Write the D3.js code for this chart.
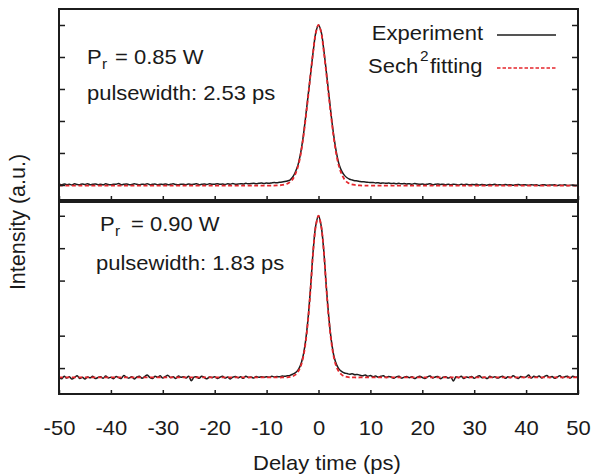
<!DOCTYPE html>
<html>
<head>
<meta charset="utf-8">
<script src="https://cdn.jsdelivr.net/npm/d3@7"></script>
<style>
  body { margin: 0; background: #fff; }
  svg text { font-family: "Liberation Sans", Arial, Helvetica, sans-serif; fill: #1a1a1a; }
</style>
</head>
<body>
<div id="chart"></div>
<script>
// delay axis ticks (ps)
var xTicks = [-50, -40, -30, -20, -10, 0, 10, 20, 30, 40, 50]
var topYTicks = [0, 0.2, 0.4, 0.6, 0.8, 1.0]
var botYTicks = [0.06, 0.26, 0.6, 0.8, 1.0]

// experiment sampled every 0.5 ps from -50 to 50
var delay = d3.range(-50, 50.01, 0.5)

var expTop = [
  0.004, 0.001, 0.006, 0.002, 0.005, 0.000, 0.007, 0.003, 0.002, 0.006,
  0.003, 0.008, 0.001, 0.004, 0.006, 0.002, 0.005, 0.001, 0.007, 0.003,
  0.002, 0.005, 0.004, 0.009, 0.001, 0.004, 0.006, 0.002, 0.003, 0.007,
  0.004, 0.001, 0.005, 0.003, 0.008, 0.002, 0.004, 0.006, 0.001, 0.005,
  0.003, 0.006, 0.002, 0.004, 0.007, 0.003, 0.001, 0.005, 0.004, 0.002,
  0.006, 0.003, 0.005, 0.008, 0.002, 0.004, 0.006, 0.003, 0.007, 0.004,
  0.005, 0.008, 0.004, 0.006, 0.003, 0.007, 0.005, 0.009, 0.004, 0.006,
  0.008, 0.006, 0.010, 0.007, 0.009, 0.011, 0.008, 0.010, 0.012, 0.009,
  0.012, 0.010, 0.013, 0.015, 0.014, 0.017, 0.018, 0.021, 0.025, 0.031,
  0.048, 0.078, 0.120, 0.190, 0.290, 0.420, 0.560, 0.700, 0.840, 0.955,
  1.000, 0.960, 0.850, 0.710, 0.565, 0.420, 0.295, 0.195, 0.125, 0.085,
  0.060, 0.045, 0.036, 0.031, 0.027, 0.025, 0.022, 0.020, 0.019, 0.017,
  0.015, 0.016, 0.013, 0.014, 0.011, 0.013, 0.010, 0.012, 0.009, 0.011,
  0.008, 0.010, 0.007, 0.009, 0.006, 0.008, 0.005, 0.009, 0.006, 0.004,
  0.006, 0.003, 0.005, 0.007, 0.002, 0.004, 0.006, 0.003, 0.005, 0.002,
  0.004, 0.001, 0.005, 0.003, 0.000, 0.004, 0.002, 0.005, 0.001, 0.003,
  0.002, 0.004, 0.000, 0.003, 0.001, -0.001, 0.003, 0.001, 0.004, 0.000,
  0.002, -0.001, 0.003, 0.000, 0.002, -0.002, 0.001, 0.003, -0.001, 0.002,
  0.000, -0.002, 0.002, -0.001, 0.001, -0.003, 0.000, 0.002, -0.002, 0.000,
  -0.001, 0.001, -0.003, 0.000, -0.002, 0.001, -0.004, -0.001, 0.000, -0.003,
  -0.002
]

var expBot = [
  0.004, -0.006, 0.010, -0.002, 0.006, -0.008, 0.002, 0.012, -0.004, 0.003,
  -0.007, 0.005, 0.000, 0.009, -0.005, 0.002, 0.007, -0.003, 0.011, -0.001,
  0.004, -0.006, 0.008, 0.001, -0.004, 0.014, 0.003, -0.002, 0.006, -0.007,
  0.005, 0.010, -0.003, 0.007, 0.018, 0.002, -0.005, 0.009, 0.004, 0.012,
  -0.002, 0.008, 0.015, 0.001, 0.006, -0.004, 0.011, 0.003, 0.007, -0.001,
  0.009, -0.018, 0.004, 0.006, -0.003, 0.010, 0.002, -0.006, 0.005, 0.001,
  0.007, -0.004, 0.003, 0.009, -0.002, 0.005, -0.007, 0.004, 0.008, 0.000,
  0.006, -0.003, 0.010, 0.002, 0.005, -0.001, 0.008, 0.003, 0.006, 0.004,
  0.007, 0.003, 0.009, 0.005, 0.008, 0.006, 0.011, 0.009, 0.012, 0.015,
  0.022, 0.030, 0.045, 0.075, 0.130, 0.225, 0.370, 0.570, 0.795, 0.945,
  1.000, 0.940, 0.790, 0.565, 0.370, 0.225, 0.130, 0.080, 0.052, 0.038,
  0.030, 0.026, 0.022, 0.025, 0.019, 0.021, 0.016, 0.012, 0.018, 0.009,
  0.014, 0.006, 0.011, 0.003, 0.009, 0.013, 0.002, 0.008, 0.005, -0.003,
  0.006, 0.010, -0.002, 0.004, 0.008, 0.001, 0.007, -0.005, 0.003, 0.009,
  0.002, -0.004, 0.006, 0.011, -0.001, 0.005, 0.008, -0.006, 0.003, 0.007,
  -0.002, 0.004, -0.020, 0.006, 0.001, 0.009, -0.004, 0.005, 0.002, 0.008,
  -0.003, 0.006, 0.012, 0.000, 0.004, -0.005, 0.009, 0.002, 0.007, -0.002,
  0.005, 0.010, -0.003, 0.006, 0.001, 0.013, 0.003, -0.004, 0.008, 0.002,
  0.006, 0.017, -0.002, 0.009, 0.004, 0.011, -0.001, 0.007, 0.014, 0.002,
  0.008, -0.003, 0.005, 0.012, 0.001, 0.007, 0.010, -0.002, 0.009, 0.004,
  0.006
]

// sech^2 fits
var fitDelay = [-50, -20, -10, -8, -7, -6, -5.5, -5, -4.5, -4, -3.5, -3, -2.5, -2, -1.5, -1, -0.5,
  0, 0.5, 1, 1.5, 2, 2.5, 3, 3.5, 4, 4.5, 5, 5.5, 6, 7, 8, 10, 20, 50]
var fitTop = [-0.004, -0.004, -0.004, -0.003, 0.000, 0.008, 0.018, 0.035, 0.065, 0.110, 0.180, 0.280, 0.410, 0.550, 0.700, 0.840, 0.955,
  1.000, 0.955, 0.840, 0.700, 0.550, 0.410, 0.280, 0.180, 0.110, 0.065, 0.035, 0.018, 0.008, 0.000, -0.003, -0.004, -0.004, -0.004]
var fitBot = [0.002, 0.002, 0.002, 0.002, 0.002, 0.003, 0.005, 0.009, 0.018, 0.035, 0.065, 0.120, 0.215, 0.360, 0.560, 0.790, 0.940,
  1.000, 0.940, 0.790, 0.560, 0.360, 0.215, 0.120, 0.065, 0.035, 0.018, 0.009, 0.005, 0.003, 0.002, 0.002, 0.002, 0.002, 0.002]

var ink = '#1c1c1c'
var red = '#e5262c'

var svg = d3.select('#chart').append('svg')
  .attr('width', 595).attr('height', 475)

var x = d3.scaleLinear().domain([-50, 50]).range([59, 578])

var panels = [
  {id: 'top', y: d3.scaleLinear().domain([-0.094, 1.1]).range([200, 9]), exp: expTop, fit: fitTop, ticks: topYTicks},
  {id: 'bot', y: d3.scaleLinear().domain([-0.1, 1.085]).range([394, 202]), exp: expBot, fit: fitBot, ticks: botYTicks}
]

panels.forEach(function(p){
  var r = p.y.range()
  var g = svg.append('g')

  g.append('clipPath').attr('id', 'clip-' + p.id)
    .append('rect').attr('x', x(-50)).attr('y', r[1]).attr('width', x(50) - x(-50)).attr('height', r[0] - r[1])

  var line = d3.line().x(function(d){ return x(d[0]) }).y(function(d){ return p.y(d[1]) })
    .curve(d3.curveCatmullRom.alpha(0.5))

  var plot = g.append('g').attr('clip-path', 'url(#clip-' + p.id + ')')
  plot.append('path')
    .attr('d', line(delay.map(function(t, i){ return [t, p.exp[i]] })))
    .attr('fill', 'none').attr('stroke', ink).attr('stroke-width', 1.5)
  plot.append('path')
    .attr('d', line(fitDelay.map(function(t, i){ return [t, p.fit[i]] })))
    .attr('fill', 'none').attr('stroke', red).attr('stroke-width', 1.8)
    .attr('stroke-dasharray', '4,2.5')

  // inward ticks, no labels
  var ax = [
    g.append('g').attr('transform', 'translate(0,' + r[0] + ')')
      .call(d3.axisBottom(x).tickValues(xTicks).tickSize(-4).tickFormat('')),
    g.append('g').attr('transform', 'translate(' + x(-50) + ',0)')
      .call(d3.axisLeft(p.y).tickValues(p.ticks).tickSize(-6).tickFormat('')),
    g.append('g').attr('transform', 'translate(' + x(50) + ',0)')
      .call(d3.axisRight(p.y).tickValues(p.ticks).tickSize(-6).tickFormat(''))
  ]
  ax.forEach(function(a){
    a.select('.domain').remove()
    a.selectAll('line').attr('stroke', ink).attr('stroke-width', 1.5)
  })

  g.append('rect')
    .attr('x', x(-50)).attr('y', r[1]).attr('width', x(50) - x(-50)).attr('height', r[0] - r[1])
    .attr('fill', 'none').attr('stroke', ink).attr('stroke-width', 2)
})

// x tick labels under bottom panel
var xl = svg.append('g').attr('transform', 'translate(0,394)')
  .call(d3.axisBottom(x).tickValues(xTicks).tickSize(0).tickFormat(function(d){ return String(d) }))
xl.select('.domain').remove()
xl.selectAll('text')
  .attr('y', 0).attr('dy', 0)
  .attr('transform', 'translate(0,41) scale(1.1,1)')
  .attr('font-size', 20).attr('fill', ink)
  .style('font-family', '"Liberation Sans", Arial, sans-serif')

function label(x0, y0, str, size, anchor){
  return svg.append('text')
    .attr('transform', 'translate(' + x0 + ',' + y0 + ') scale(1.1,1)')
    .attr('font-size', size || 20)
    .attr('text-anchor', anchor || 'start')
    .text(str)
}

label(253, 470, 'Delay time (ps)')

svg.append('text')
  .attr('transform', 'translate(25,222) rotate(-90)')
  .attr('font-size', 21.5).attr('text-anchor', 'middle')
  .text('Intensity (a.u.)')

// annotations
label(87, 64, 'P')
label(102, 69, 'r', 14)
label(115, 64, '= 0.85 W')
label(87, 100, 'pulsewidth: 2.53 ps')

label(100, 231, 'P')
label(115, 236, 'r', 14)
label(131, 231, '= 0.90 W')
label(96, 270, 'pulsewidth: 1.83 ps')

// legend
label(483, 40, 'Experiment', 20, 'end')
svg.append('line').attr('x1', 497).attr('x2', 556).attr('y1', 35).attr('y2', 35)
  .attr('stroke', ink).attr('stroke-width', 1.5)
label(368, 73, 'Sech')
label(420, 61, '2', 14)
label(430, 73, 'fitting')
svg.append('line').attr('x1', 497).attr('x2', 556).attr('y1', 68).attr('y2', 68)
  .attr('stroke', red).attr('stroke-width', 1.5).attr('stroke-dasharray', '3.5,2')
</script>
</body>
</html>
